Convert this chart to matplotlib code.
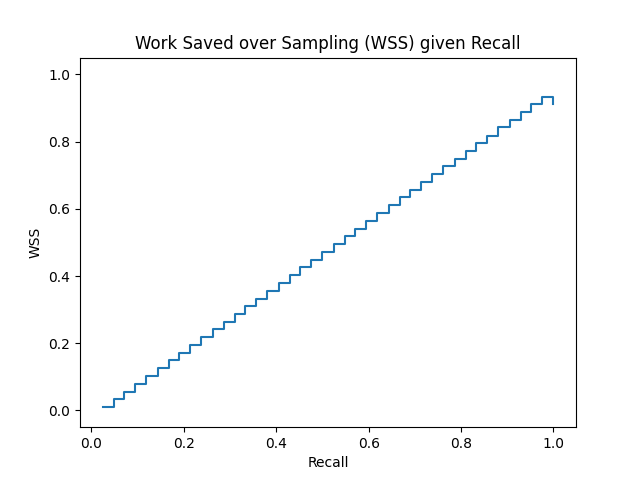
import matplotlib
matplotlib.use('Agg')
import matplotlib.pyplot as plt

recall = [0.024, 0.048, 0.071, 0.095, 0.119, 0.143, 0.167, 0.190, 0.214, 0.238,
          0.262, 0.286, 0.310, 0.333, 0.357, 0.381, 0.405, 0.429, 0.452, 0.476,
          0.500, 0.524, 0.548, 0.571, 0.595, 0.619, 0.643, 0.667, 0.690, 0.714,
          0.738, 0.762, 0.786, 0.810, 0.833, 0.857, 0.881, 0.905, 0.929, 0.952,
          0.976, 1.000]
wss = [0.010, 0.033, 0.056, 0.079, 0.102, 0.125, 0.149, 0.172, 0.195, 0.218,
       0.241, 0.264, 0.287, 0.310, 0.333, 0.356, 0.380, 0.403, 0.426, 0.449,
       0.472, 0.495, 0.518, 0.541, 0.564, 0.587, 0.611, 0.634, 0.657, 0.680,
       0.703, 0.726, 0.749, 0.772, 0.795, 0.818, 0.842, 0.865, 0.888, 0.911,
       0.934, 0.913]

fig, ax = plt.subplots(figsize=(6.4, 4.8), dpi=100)
ax.step(recall, wss, where='post')
ax.set_ylim(-0.05, 1.05)
ax.set_xlabel('Recall')
ax.set_ylabel('WSS')
ax.set_title('Work Saved over Sampling (WSS) given Recall')
plt.savefig('out.png')
